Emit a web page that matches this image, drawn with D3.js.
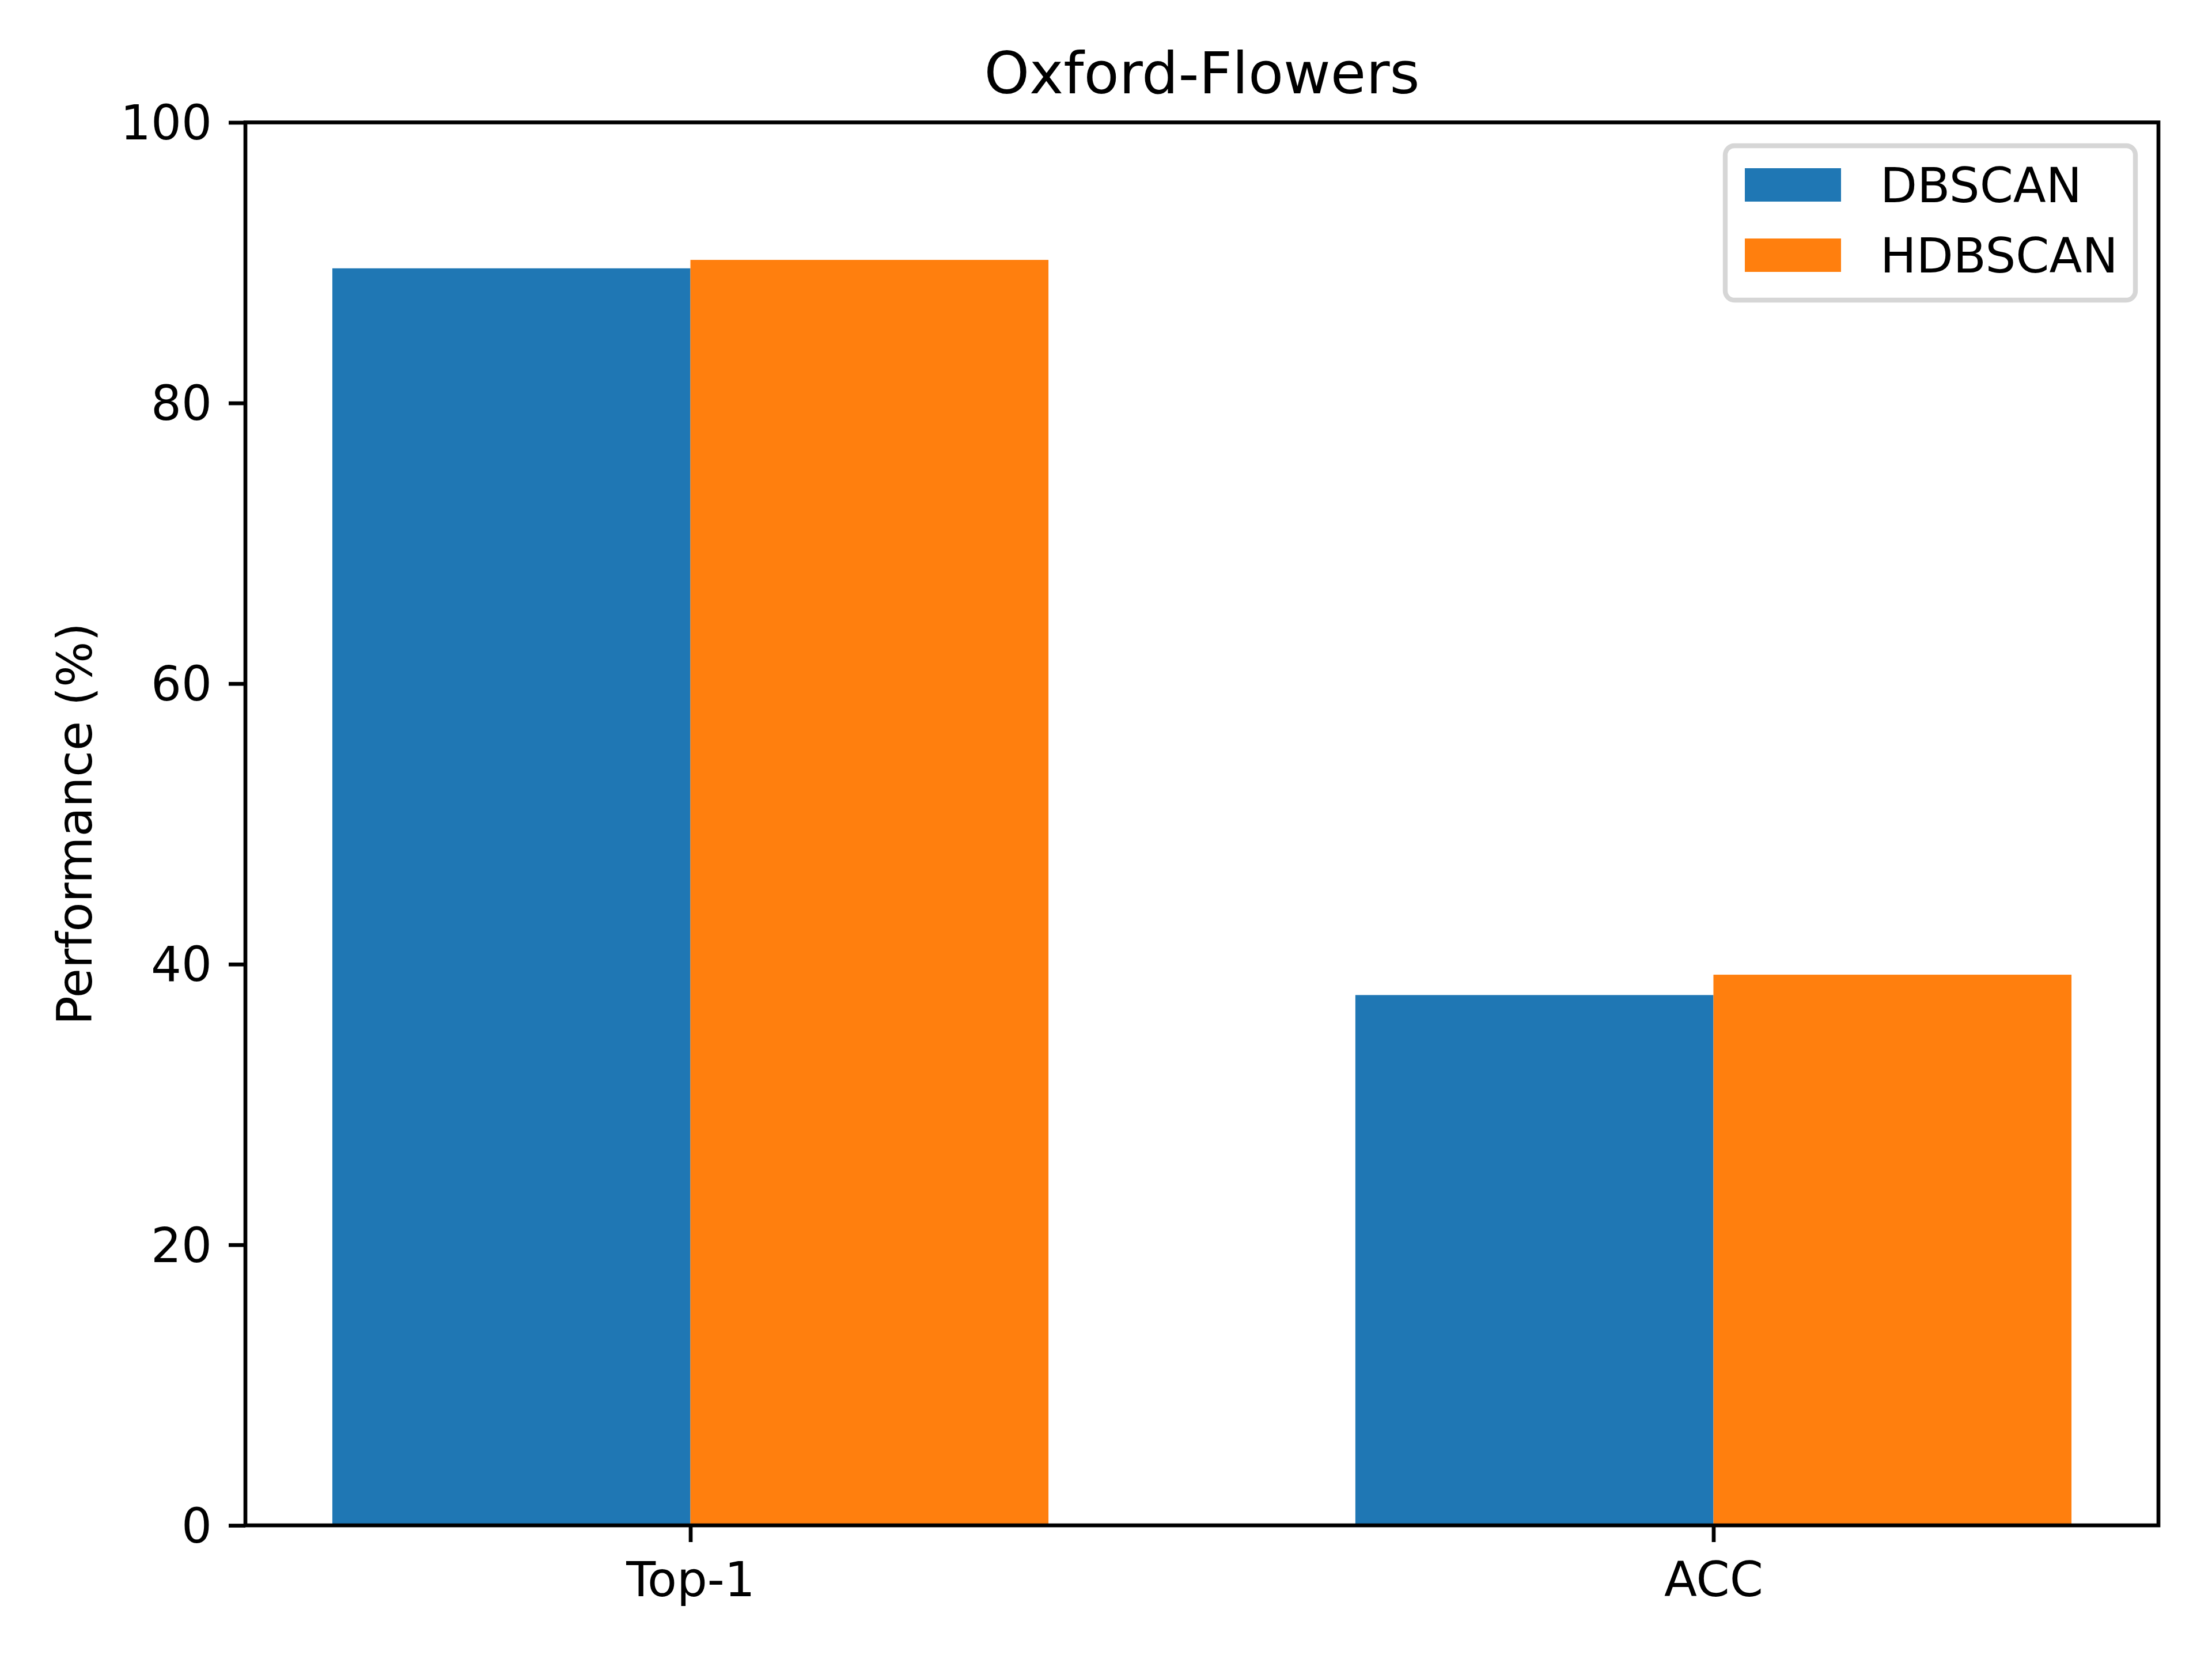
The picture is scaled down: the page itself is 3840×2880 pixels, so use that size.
<!DOCTYPE html>
<html><head><meta charset="utf-8">
<script src="https://cdn.jsdelivr.net/npm/d3@7"></script>
<style>body{margin:0;background:#fff}svg{display:block}text{font-family:"DejaVu Sans",sans-serif}</style>
</head><body>
<script>
const categories = ["Top-1", "ACC"];
const seriesNames = ["DBSCAN", "HDBSCAN"];
const dbscanValues = [89.6, 37.8];
const hdbscanValues = [90.2, 39.25];
const seriesColors = ["#1f77b4", "#ff7f0e"];
const yTicks = [0, 20, 40, 60, 80, 100];
const title = "Oxford-Flowers";
const yLabel = "Performance (%)";

const W = 3840, H = 2880;
const L = 426, R = 3747, T = 212.5, B = 2648;
const fs = 83.3, lw = 6.67, tickLen = 29, pad = 29;
const barW = 0.35;

const svg = d3.select("body").append("svg").attr("width", W).attr("height", H);
svg.append("rect").attr("width", W).attr("height", H).attr("fill", "#fff");

const xIdx = d3.scaleLinear().domain([-0.35 - 0.085, 1.35 + 0.085]).range([L, R]);
const y = d3.scaleLinear().domain([0, 100]).range([B, T]);

const series = [dbscanValues, hdbscanValues];
series.forEach((vals, s) => {
  svg.append("g").selectAll("rect").data(vals).join("rect")
    .attr("x", (d, i) => xIdx(i + (s === 0 ? -barW : 0)))
    .attr("width", xIdx(barW) - xIdx(0))
    .attr("y", d => y(d))
    .attr("height", d => y(0) - y(d))
    .attr("fill", seriesColors[s]);
});

// y axis
const yAxis = d3.axisLeft(y).tickValues(yTicks).tickSize(tickLen).tickPadding(pad).tickFormat(d3.format("d"));
const gy = svg.append("g").attr("transform", `translate(${L},0)`).call(yAxis);
gy.select(".domain").remove();
gy.selectAll(".tick line").attr("stroke", "#000").attr("stroke-width", lw);
gy.selectAll(".tick text").attr("font-size", fs).attr("fill", "#000").attr("dy", "0.35em");

// x axis
const xAxis = d3.axisBottom(xIdx).tickValues([0, 1]).tickSize(tickLen).tickPadding(pad).tickFormat(i => categories[i]);
const gx = svg.append("g").attr("transform", `translate(0,${B})`).call(xAxis);
gx.select(".domain").remove();
gx.selectAll(".tick line").attr("stroke", "#000").attr("stroke-width", lw);
gx.selectAll(".tick text").attr("font-size", fs).attr("fill", "#000").attr("dy", "0.78em");

// frame
svg.append("rect").attr("x", L).attr("y", T).attr("width", R - L).attr("height", B - T)
  .attr("fill", "none").attr("stroke", "#000").attr("stroke-width", lw).attr("stroke-linejoin", "miter");

// title
svg.append("text").attr("x", (L + R) / 2).attr("y", 162).attr("text-anchor", "middle")
  .attr("font-size", 100).attr("fill", "#000").text(title);

// y label
svg.append("text").attr("transform", `translate(130,${(T + B) / 2}) rotate(-90)`)
  .attr("text-anchor", "middle").attr("dominant-baseline", "central")
  .attr("font-size", fs).attr("fill", "#000").text(yLabel);

// legend
const lg = svg.append("g");
const lx = 2995, ly = 253, lwid = 712, lh = 268;
lg.append("rect").attr("x", lx).attr("y", ly).attr("width", lwid).attr("height", lh)
  .attr("rx", 16).attr("fill", "#fff").attr("fill-opacity", 0.8).attr("stroke", "#d6d6d6").attr("stroke-width", 8.3);
seriesNames.forEach((name, i) => {
  const cy = 321 + i * 122;
  lg.append("rect").attr("x", 3029).attr("y", cy - 29).attr("width", 167).attr("height", 58).attr("fill", seriesColors[i]);
  lg.append("text").attr("x", 3264).attr("y", cy).attr("dy", "0.36em").attr("font-size", fs).attr("fill", "#000").text(name);
});
</script>
</body></html>
